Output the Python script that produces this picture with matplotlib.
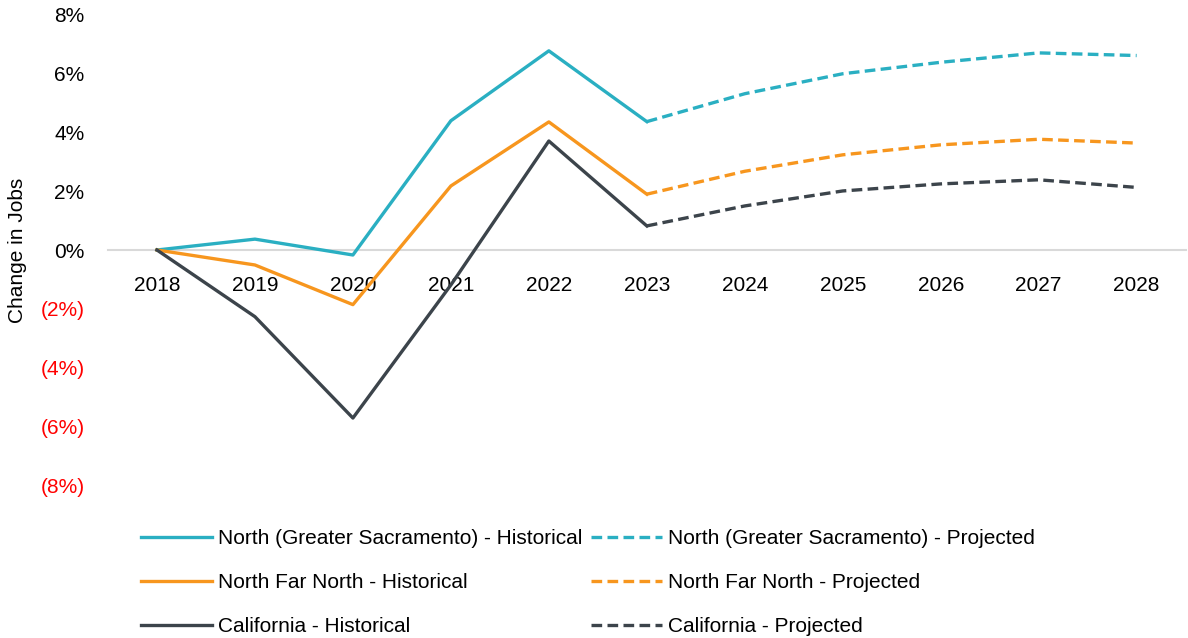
import numpy as np
import matplotlib.pyplot as plt
from matplotlib.ticker import FuncFormatter

# Change in jobs vs 2018, historical 2018-2023 and projected 2023-2028
years = ['2018', '2019', '2020', '2021', '2022', '2023', '2024', '2025', '2026', '2027', '2028']
hist_idx = list(range(0, 6))
proj_idx = list(range(5, 11))

sac_hist = [0.0, 0.37, -0.17, 4.40, 6.78, 4.37]
sac_proj = [4.37, 5.32, 6.00, 6.39, 6.71, 6.62]

farnorth_hist = [0.0, -0.51, -1.86, 2.18, 4.36, 1.90]
farnorth_proj = [1.90, 2.68, 3.24, 3.58, 3.77, 3.64]

ca_hist = [0.0, -2.27, -5.72, -1.19, 3.71, 0.82]
ca_proj = [0.82, 1.50, 2.01, 2.25, 2.39, 2.13]

c_sac = '#2AAFC2'
c_fn = '#F7961E'
c_ca = '#3C444B'

plt.rcParams['font.family'] = ['Liberation Sans', 'DejaVu Sans']

fig = plt.figure(figsize=(11.88, 6.38), dpi=100)
ax = fig.add_axes([0.0909, 0.2398, 0.9071, 0.7367])

lw = 2.4
dash = (0, (3.2, 1.6))
l1, = ax.plot(hist_idx, sac_hist, color=c_sac, lw=lw, label='North (Greater Sacramento) - Historical')
l4, = ax.plot(proj_idx, sac_proj, color=c_sac, lw=lw, ls=dash, label='North (Greater Sacramento) - Projected')
l2, = ax.plot(hist_idx, farnorth_hist, color=c_fn, lw=lw, label='North Far North - Historical')
l5, = ax.plot(proj_idx, farnorth_proj, color=c_fn, lw=lw, ls=dash, label='North Far North - Projected')
l3, = ax.plot(hist_idx, ca_hist, color=c_ca, lw=lw, label='California - Historical')
l6, = ax.plot(proj_idx, ca_proj, color=c_ca, lw=lw, ls=dash, label='California - Projected')

for s in ['top', 'right', 'left']:
    ax.spines[s].set_visible(False)
ax.spines['bottom'].set_position(('data', 0))
ax.spines['bottom'].set_color('#D9D9D9')
ax.spines['bottom'].set_linewidth(1.5)
ax.spines['bottom'].set_zorder(0)

ax.set_xlim(-0.5, len(years) - 0.5)
ax.set_ylim(-8, 8)
ax.set_xticks(range(len(years)))
ax.set_xticklabels(years)
ax.set_yticks(np.arange(-8, 9, 2))

def pct(v, pos):
    v = int(round(v))
    if v < 0:
        return '({}%)'.format(-v)
    return '{}%'.format(v)

ax.yaxis.set_major_formatter(FuncFormatter(pct))
ax.tick_params(axis='both', length=0, labelsize=15)
ax.tick_params(axis='x', pad=19)
ax.tick_params(axis='y', pad=17)
fig.canvas.draw()
for lab in ax.get_yticklabels():
    if lab.get_text().startswith('('):
        lab.set_color('#FF0000')

ax.set_ylabel('Change in Jobs', fontsize=15)
ax.yaxis.set_label_coords(-0.075, 0.5)

leg = fig.legend(handles=[l1, l2, l3, l4, l5, l6], ncol=2, loc='upper left',
                 bbox_to_anchor=(0.103, 0.2), frameon=False,
                 handlelength=3.4, handletextpad=0.3,
                 columnspacing=0.4, labelspacing=1.2,
                 prop={'family': ['Liberation Sans'], 'size': 15})

fig.savefig('out.png', dpi=100)
